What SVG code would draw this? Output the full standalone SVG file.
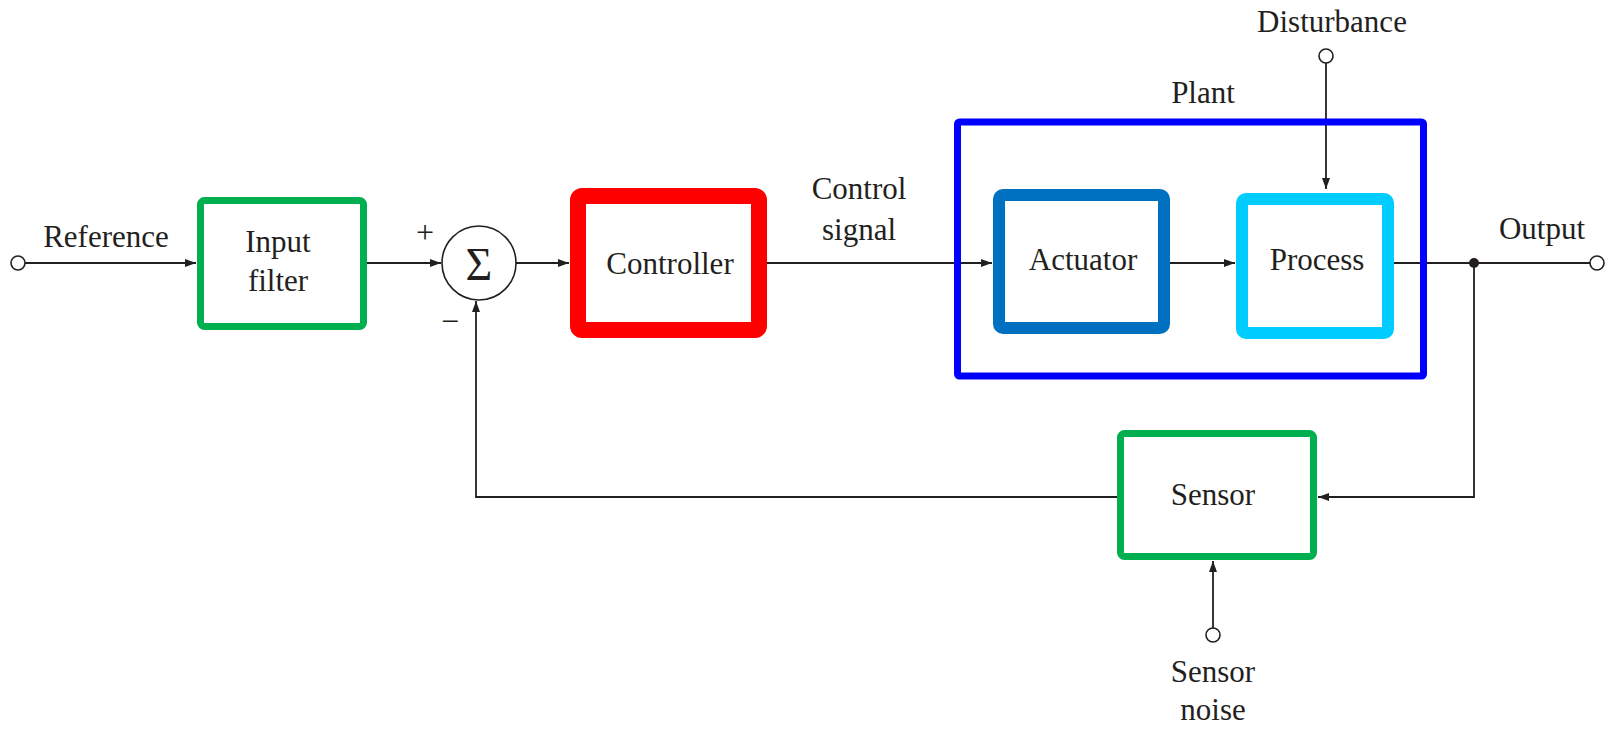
<svg xmlns="http://www.w3.org/2000/svg" width="1612" height="729" viewBox="0 0 1612 729">
<style>
text{font-family:"Liberation Serif","Times New Roman",serif;font-size:31px;fill:#231f20;text-anchor:middle}
.ln{fill:none;stroke:#231f20;stroke-width:1.8}
.term{fill:#fff;stroke:#231f20;stroke-width:1.6}
.box{fill:#fff;rx:4}
</style>
<defs>
<marker id="ar" markerWidth="12" markerHeight="10" refX="11" refY="5" orient="auto" markerUnits="userSpaceOnUse">
<path d="M0,1 L11,5 L0,9 Z" fill="#231f20"/>
</marker>
</defs>
<rect width="1612" height="729" fill="#fff"/>
<g id="connectors">
<path class="ln" d="M25,263 H196" marker-end="url(#ar)"/>
<path class="ln" d="M367,263 H441" marker-end="url(#ar)"/>
<path class="ln" d="M516,263 H569" marker-end="url(#ar)"/>
<path class="ln" d="M767,263 H992" marker-end="url(#ar)"/>
<path class="ln" d="M1170,263 H1235" marker-end="url(#ar)"/>
<path class="ln" d="M1394,263 H1590"/>
<path class="ln" d="M1326,63 V189" marker-end="url(#ar)"/>
<path class="ln" d="M1474,263 V497 H1318" marker-end="url(#ar)"/>
<path class="ln" d="M1117,497 H476 V301" marker-end="url(#ar)"/>
<path class="ln" d="M1213,628 V561" marker-end="url(#ar)"/>
<circle cx="1474" cy="263" r="5" fill="#231f20"/>
</g>
<g id="reference">
<circle class="term" cx="18" cy="263" r="7"/>
<text x="106" y="247">Reference</text>
</g>
<g id="input-filter">
<rect class="box" x="200.5" y="200.5" width="163" height="126" stroke="#00B050" stroke-width="7"/>
<text x="278" y="252">Input</text>
<text x="278" y="291">filter</text>
</g>
<g id="sum">
<circle cx="479" cy="263" r="37" fill="#fff" stroke="#231f20" stroke-width="1.6"/>
<text x="479" y="280" style="font-size:46px">Σ</text>
<text x="425" y="243" style="font-size:32px">+</text>
<text x="450" y="332" style="font-size:32px">−</text>
</g>
<g id="controller">
<rect class="box" x="578" y="196" width="181" height="134" stroke="#FF0000" stroke-width="16"/>
<text x="670" y="274">Controller</text>
</g>
<g id="control-signal-label">
<text x="859" y="199">Control</text>
<text x="859" y="240">signal</text>
</g>
<g id="plant">
<rect x="957.5" y="122" width="466" height="254" fill="none" stroke="#0000FF" stroke-width="7" rx="2"/>
<text x="1203" y="103">Plant</text>
</g>
<g id="actuator">
<rect class="box" x="999" y="195" width="165" height="133" stroke="#0070C0" stroke-width="12"/>
<text x="1083" y="270">Actuator</text>
</g>
<g id="process">
<rect class="box" x="1242" y="199" width="146" height="134" stroke="#00CCFF" stroke-width="12"/>
<text x="1317" y="270">Process</text>
</g>
<g id="disturbance">
<circle class="term" cx="1326" cy="56" r="7"/>
<text x="1332" y="32">Disturbance</text>
</g>
<g id="output">
<circle class="term" cx="1597" cy="263" r="7"/>
<text x="1542" y="239">Output</text>
</g>
<g id="sensor">
<rect class="box" x="1120.5" y="433.5" width="193" height="123" stroke="#00B050" stroke-width="7"/>
<text x="1213" y="505">Sensor</text>
</g>
<g id="sensor-noise">
<circle class="term" cx="1213" cy="635" r="7"/>
<text x="1213" y="682">Sensor</text>
<text x="1213" y="720">noise</text>
</g>
</svg>
